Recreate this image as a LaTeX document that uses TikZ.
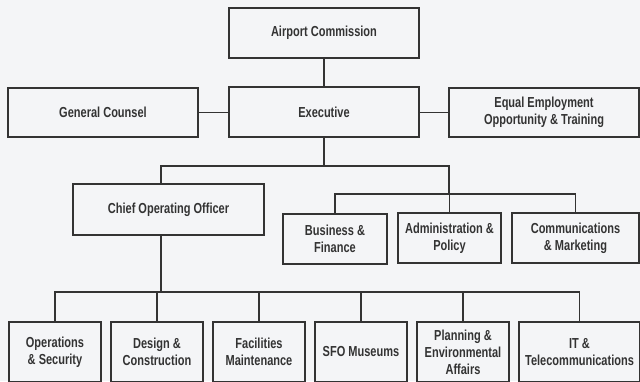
\documentclass[tikz,border=0pt]{standalone}
\usepackage{fontspec}
\setmainfont[FakeStretch=0.76,BoldFont={Liberation Sans Bold},BoldFeatures={FakeStretch=0.76}]{Liberation Sans}
\definecolor{bg}{HTML}{F4F5F7}
\definecolor{ink}{HTML}{333333}
\begin{document}
\begin{tikzpicture}[x=1pt,y=-1pt,
  box/.style={draw=ink,line width=1.1pt,rectangle,inner sep=0pt,align=center,
    text=ink,font=\bfseries\fontsize{14.5}{17}\selectfont},
  link/.style={draw=ink,line width=1.1pt}]
\fill[bg] (0,0) rectangle (640,381);
\useasboundingbox (0,0) rectangle (640,381);
\clip (0,0) rectangle (640,381);
% top levels
\node[box,minimum width=190pt,minimum height=50pt] (ac) at (324,33) {Airport Commission};
\node[box,minimum width=190pt,minimum height=50pt] (ex) at (324,112) {Executive};
\node[box,minimum width=190pt,minimum height=49pt] (gc) at (103,112.5) {General Counsel};
\node[box,minimum width=190pt,minimum height=49pt] (eeo) at (544,112.5) {Equal Employment\\Opportunity \& Training};
% second level
\node[box,minimum width=191pt,minimum height=51pt] (coo) at (168.5,209.5) {Chief Operating Officer};
\node[box,minimum width=104pt,minimum height=50pt] (bf) at (335,239) {Business \&\\Finance};
\node[box,minimum width=103pt,minimum height=50pt] (ap) at (449.5,238) {Administration \&\\Policy};
\node[box,minimum width=127pt,minimum height=50pt] (cm) at (575.5,238) {Communications\\\& Marketing};
% bottom row
\node[box,minimum width=92pt,minimum height=60pt] (ops) at (55,352) {Operations\\\& Security};
\node[box,minimum width=92pt,minimum height=60pt] (dc) at (157,352) {Design \&\\Construction};
\node[box,minimum width=92pt,minimum height=60pt] (fm) at (259,352) {Facilities\\Maintenance};
\node[box,minimum width=92pt,minimum height=60pt] (sfo) at (361,352) {SFO Museums};
\node[box,minimum width=92pt,minimum height=60pt] (pe) at (463,352) {Planning \&\\Environmental\\Affairs};
\node[box,minimum width=121pt,minimum height=60pt] (it) at (579.5,352) {IT \&\\Telecommunications};
% junction points
\coordinate (j1) at (324,166);
\coordinate (j2) at (449,194);
\coordinate (b1) at (161,292);
% connectors
\draw[link] (ac.south) -- (ex.north);
\draw[link] (gc.east) -- (gc.east -| ex.west);
\draw[link] (eeo.west) -- (eeo.west -| ex.east);
\draw[link] (ex.south) -- (j1);
\draw[link] (b1 |- coo.north) |- (j1) -| (j2);
\draw[link] (b1 |- coo.south) -- (b1);
\draw[link] (bf.north) |- (j2) -| (cm.north);
\draw[link] (ap.north) -- (ap.north |- j2);
\draw[link] (ops.north) |- (b1) -| (it.north);
\draw[link] (dc.north) -- (dc.north |- b1);
\draw[link] (fm.north) -- (fm.north |- b1);
\draw[link] (sfo.north) -- (sfo.north |- b1);
\draw[link] (pe.north) -- (pe.north |- b1);
\end{tikzpicture}
\end{document}
